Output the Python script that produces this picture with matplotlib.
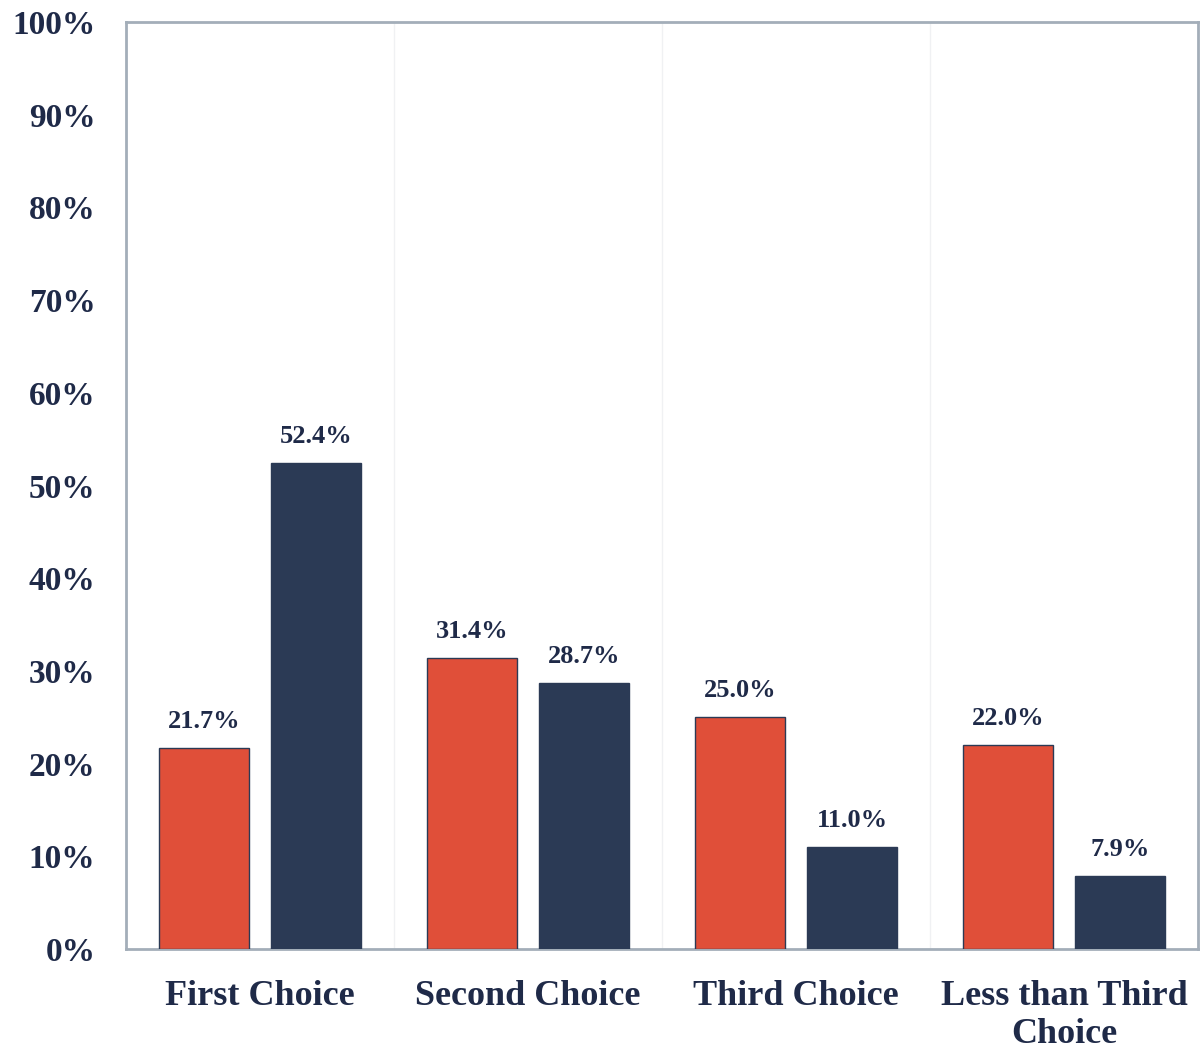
import matplotlib.pyplot as plt
import numpy as np

categories = ['First Choice', 'Second Choice', 'Third Choice', 'Less than Third\nChoice']
series_a = [21.7, 31.4, 25.0, 22.0]   # red
series_b = [52.4, 28.7, 11.0, 7.9]    # navy
y_ticks = [0, 10, 20, 30, 40, 50, 60, 70, 80, 90, 100]

RED = '#E04F39'
NAVY = '#2B3A55'
TEXT = '#1F2A48'
SPINE = '#A3AEB9'

plt.rcParams['font.family'] = ['Liberation Serif', 'DejaVu Serif']
plt.rcParams['font.weight'] = 'bold'

fig = plt.figure(figsize=(12.03, 10.51), dpi=100)
ax = fig.add_axes([0.1047, 0.0970, 0.8911, 0.8821])

x = np.arange(len(categories))
w = 0.336
off = 0.209
bars_a = ax.bar(x - off, series_a, w, color=RED, edgecolor=NAVY, linewidth=1, zorder=3)
bars_b = ax.bar(x + off, series_b, w, color=NAVY, edgecolor=NAVY, linewidth=1, zorder=3)

for bars, vals in [(bars_a, series_a), (bars_b, series_b)]:
    for b, v in zip(bars, vals):
        ax.annotate(f'{v:.1f}%', (b.get_x() + b.get_width() / 2, v),
                    xytext=(0, 11), textcoords='offset points',
                    ha='center', va='bottom', fontsize=19, fontweight='bold', color=TEXT)

ax.set_xlim(-0.5, len(categories) - 0.5)
ax.set_ylim(0, 100)
ax.set_yticks(y_ticks)
ax.set_yticklabels([f'{t}%' for t in y_ticks])
ax.set_xticks(x)
ax.set_xticklabels(categories, linespacing=1.2)
ax.set_xticks(x[:-1] + 0.5, minor=True)
ax.grid(axis='x', which='minor', color='#F0F1F3', linewidth=1, zorder=0)
ax.tick_params(axis='both', which='both', length=0)
ax.tick_params(axis='y', labelsize=24, labelcolor=TEXT, pad=22)
ax.tick_params(axis='x', labelsize=26, labelcolor=TEXT, pad=22)
for lab in ax.get_yticklabels() + ax.get_xticklabels():
    lab.set_fontweight('bold')

for s in ax.spines.values():
    s.set_color(SPINE)
    s.set_linewidth(2)

fig.savefig('out.png', dpi=100)
